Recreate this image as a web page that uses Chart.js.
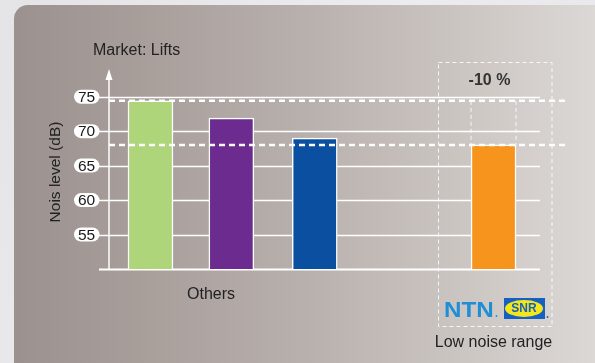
<!DOCTYPE html>
<html>
<head>
<meta charset="utf-8">
<script src="https://cdn.jsdelivr.net/npm/chart.js@4"></script>
<style>
  html, body { margin: 0; padding: 0; background: #e8e8ea; }
  canvas { display: block; }
</style>
</head>
<body>
<canvas id="noiseChart" width="595" height="363"></canvas>
<script>
// chart data
const barLabels = ['Others A', 'Others B', 'Others C', 'NTN-SNR'];
const barSlots = [1, 2.95, 4.96, 9.27];
const noiseLevels = [74.4, 71.9, 69.0, 68.0];
const barColors = ['#aed57a', '#6b2b8f', '#0b4fa0', '#f7941d'];
const tickValues = [55, 60, 65, 70, 75];
const reductionLabel = '-10 %';

const FONT = '"Liberation Sans", Arial, sans-serif';

function pill(ctx, x, y, w, h) {
    const r = h / 2;
    ctx.beginPath();
    ctx.moveTo(x + r, y);
    ctx.lineTo(x + w - r, y);
    ctx.arc(x + w - r, y + r, r, -Math.PI / 2, Math.PI / 2);
    ctx.lineTo(x + r, y + h);
    ctx.arc(x + r, y + r, r, Math.PI / 2, Math.PI * 1.5);
    ctx.closePath();
}

// background panel, grid, axis and pill labels
const backdropPlugin = {
    id: 'backdrop',
    beforeDatasetsDraw(chart) {
        const ctx = chart.ctx;
        const yScale = chart.scales.y;
        const area = chart.chartArea;

        ctx.save();
        const bg = ctx.createLinearGradient(0, 0, 595, 363);
        bg.addColorStop(0, '#e4e4e6');
        bg.addColorStop(0.5, '#ececee');
        bg.addColorStop(1, '#e6e6e8');
        ctx.fillStyle = bg;
        ctx.fillRect(0, 0, 595, 363);

        const panel = ctx.createLinearGradient(14, 0, 595, 0);
        panel.addColorStop(0, '#9b918e');
        panel.addColorStop(0.5, '#b8b0ac');
        panel.addColorStop(1, '#dcd8d5');
        ctx.fillStyle = panel;
        ctx.beginPath();
        ctx.roundRect(14, 5, 600, 380, 14);
        ctx.fill();

        // grid lines
        ctx.strokeStyle = '#ffffff';
        ctx.lineWidth = 1.3;
        tickValues.forEach(v => {
            const y = Math.round(yScale.getPixelForValue(v)) + 0.5;
            ctx.beginPath();
            ctx.moveTo(99, y);
            ctx.lineTo(area.right, y);
            ctx.stroke();
        });
        const baseY = Math.round(yScale.getPixelForValue(yScale.min)) + 0.5;
        ctx.lineWidth = 1.8;
        ctx.beginPath();
        ctx.moveTo(99, baseY);
        ctx.lineTo(area.right, baseY);
        ctx.stroke();

        // y axis with arrow
        ctx.lineWidth = 1.5;
        ctx.beginPath();
        ctx.moveTo(area.left, baseY);
        ctx.lineTo(area.left, 78);
        ctx.stroke();
        ctx.fillStyle = '#ffffff';
        ctx.beginPath();
        ctx.moveTo(area.left, 69);
        ctx.lineTo(area.left + 3.5, 80);
        ctx.lineTo(area.left - 3.5, 80);
        ctx.closePath();
        ctx.fill();

        // tick labels in white pills
        ctx.font = '15.5px ' + FONT;
        ctx.textAlign = 'center';
        ctx.textBaseline = 'middle';
        tickValues.forEach(v => {
            const y = yScale.getPixelForValue(v);
            ctx.fillStyle = '#ffffff';
            pill(ctx, 74, y - 7, 25.5, 14);
            ctx.fill();
            ctx.fillStyle = '#1a1a1a';
            ctx.fillText(String(v), 86.5, y + 0.8);
        });

        // titles
        ctx.font = '16px ' + FONT;
        ctx.fillStyle = '#222222';
        ctx.textAlign = 'left';
        ctx.fillText('Market: Lifts', 93, 51);
        ctx.textAlign = 'center';
        ctx.fillText('Others', 211, 295);
        ctx.fillText('Low noise range', 493.5, 343);

        ctx.save();
        ctx.translate(56, 172);
        ctx.rotate(-Math.PI / 2);
        ctx.font = '15.5px ' + FONT;
        ctx.fillText('Nois level (dB)', 0, 0);
        ctx.restore();
        ctx.restore();
    },
    afterDatasetsDraw(chart) {
        const ctx = chart.ctx;
        const yScale = chart.scales.y;
        const area = chart.chartArea;
        const bars = chart.getDatasetMeta(0).data;
        const orange = bars[bars.length - 1];
        const topY = yScale.getPixelForValue(noiseLevels[0]);
        const lowY = yScale.getPixelForValue(noiseLevels[noiseLevels.length - 1]);

        ctx.save();
        // thin dashed box around the low noise group
        ctx.strokeStyle = 'rgba(255,255,255,0.85)';
        ctx.lineWidth = 1;
        ctx.setLineDash([4, 3]);
        ctx.strokeRect(438.5, 62.5, 113.5, 264);

        // outline of the old level above the orange bar
        const left = orange.x - orange.width / 2;
        const right = orange.x + orange.width / 2;
        ctx.beginPath();
        ctx.moveTo(left, topY);
        ctx.lineTo(left, lowY);
        ctx.moveTo(right, topY);
        ctx.lineTo(right, lowY);
        ctx.stroke();

        // reference levels
        ctx.strokeStyle = '#ffffff';
        ctx.lineWidth = 2.5;
        ctx.setLineDash([6, 4]);
        [topY, lowY].forEach(y => {
            ctx.beginPath();
            ctx.moveTo(area.left, y);
            ctx.lineTo(569, y);
            ctx.stroke();
        });
        ctx.setLineDash([]);

        ctx.fillStyle = '#333333';
        ctx.font = 'bold 16px ' + FONT;
        ctx.textAlign = 'center';
        ctx.textBaseline = 'middle';
        ctx.fillText(reductionLabel, 489.5, 81);

        // NTN logo
        ctx.save();
        ctx.translate(444, 317);
        ctx.scale(1.1, 1);
        ctx.fillStyle = '#1e8fd6';
        ctx.font = 'bold 22px ' + FONT;
        ctx.textAlign = 'left';
        ctx.textBaseline = 'alphabetic';
        ctx.fillText('NTN', 0, 0);
        ctx.restore();
        ctx.fillStyle = '#1e8fd6';
        ctx.beginPath();
        ctx.arc(496.5, 316, 0.9, 0, Math.PI * 2);
        ctx.fill();

        // SNR logo
        ctx.fillStyle = '#1660c2';
        ctx.fillRect(504, 298, 41, 21);
        ctx.fillStyle = '#f4e61a';
        ctx.beginPath();
        ctx.ellipse(524, 308.5, 19, 8.5, 0, 0, Math.PI * 2);
        ctx.fill();
        ctx.fillStyle = '#1660c2';
        ctx.font = 'bold 12px ' + FONT;
        ctx.textAlign = 'center';
        ctx.textBaseline = 'middle';
        ctx.fillText('SNR', 524, 309);
        ctx.beginPath();
        ctx.arc(547.5, 317, 0.9, 0, Math.PI * 2);
        ctx.fill();
        ctx.restore();
    }
};

new Chart(document.getElementById('noiseChart'), {
    type: 'bar',
    data: {
        datasets: [{
            label: 'Noise level',
            data: barSlots.map((s, i) => ({ x: s, y: noiseLevels[i] })),
            backgroundColor: barColors,
            borderColor: '#ffffff',
            borderWidth: { top: 1.5, left: 1.5, right: 1.5, bottom: 0 },
            barThickness: 45
        }]
    },
    options: {
        responsive: false,
        animation: false,
        layout: { padding: { left: 109, right: 55, top: 96.7, bottom: 94 } },
        scales: {
            x: { type: 'linear', display: false, offset: false, min: 0, max: 10.39 },
            y: { display: false, min: 50, max: 75 }
        },
        plugins: {
            legend: { display: false },
            tooltip: { enabled: false }
        }
    },
    plugins: [backdropPlugin]
});
</script>
</body>
</html>
